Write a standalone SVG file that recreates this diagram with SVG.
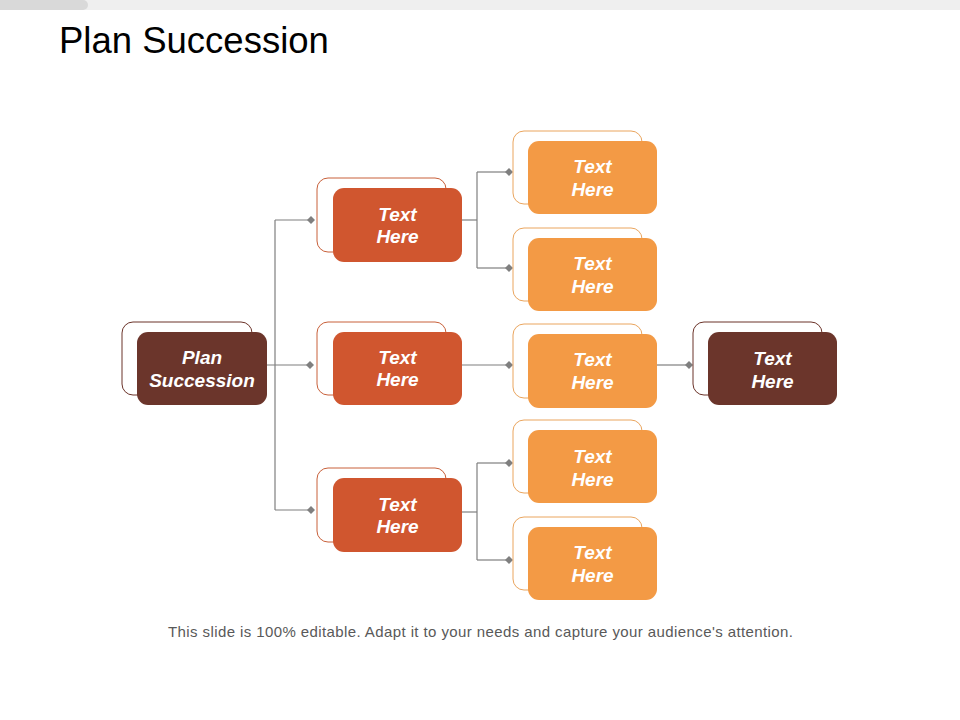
<svg xmlns="http://www.w3.org/2000/svg" width="960" height="720" viewBox="0 0 960 720">
  <defs>
    <style>
      .title { font-family: "Liberation Sans", Arial, sans-serif; font-size: 36.5px; fill: #000; }
      .foot { font-family: "Liberation Sans", Arial, sans-serif; font-size: 15px; fill: #595959; }
      .lbl { font-family: "Liberation Sans", Arial, sans-serif; font-size: 19px; font-weight: bold; font-style: italic; fill: #fff; text-anchor: middle; }
      .conn { fill: none; stroke: #7f7f7f; stroke-width: 1.2; }
      .o-dark { fill: #fff; stroke: #6b3329; stroke-width: 1; }
      .o-red { fill: #fff; stroke: #c8603a; stroke-width: 1; }
      .o-org { fill: #fff; stroke: #eaa55e; stroke-width: 1; }
      .dark { fill: #6b352b; }
      .red { fill: #d0562f; }
      .org { fill: #f39a45; }
    </style>
    <marker id="dia" viewBox="0 0 8 8" refX="4" refY="4" markerWidth="8" markerHeight="8" markerUnits="userSpaceOnUse" orient="auto">
      <path d="M0,4 L4,0 L8,4 L4,8 Z" fill="#7f7f7f"/>
    </marker>
  </defs>

  <rect x="0" y="0" width="960" height="720" fill="#fff"/>
  <rect x="0" y="0" width="960" height="10" fill="#efefef"/>
  <path d="M0,0 H83 A5,5 0 0 1 83,10 H0 Z" fill="#d9d9d9"/>

  <text class="title" x="59" y="53">Plan Succession</text>

  <g id="connectors">
    <path class="conn" d="M275,220 V510"/>
    <path class="conn" d="M267,365 H310" marker-end="url(#dia)"/>
    <path class="conn" d="M275,220 H311" marker-end="url(#dia)"/>
    <path class="conn" d="M275,510 H311" marker-end="url(#dia)"/>
    <path class="conn" d="M462,220 H477"/>
    <path class="conn" d="M477,172 V268"/>
    <path class="conn" d="M477,172 H509" marker-end="url(#dia)"/>
    <path class="conn" d="M477,268 H509" marker-end="url(#dia)"/>
    <path class="conn" d="M462,365 H509" marker-end="url(#dia)"/>
    <path class="conn" d="M462,512 H477"/>
    <path class="conn" d="M477,463 V560"/>
    <path class="conn" d="M477,463 H509" marker-end="url(#dia)"/>
    <path class="conn" d="M477,560 H509" marker-end="url(#dia)"/>
    <path class="conn" d="M657,365 H689" marker-end="url(#dia)"/>
  </g>

  <g id="root">
    <rect class="o-dark" x="122" y="322" width="130" height="73" rx="11"/>
    <rect class="dark" x="137" y="332" width="130" height="73" rx="11"/>
    <text class="lbl" x="202" y="364">Plan</text>
    <text class="lbl" x="202" y="387">Succession</text>
  </g>

  <g id="l2-top">
    <rect class="o-red" x="317" y="178" width="129" height="74" rx="11"/>
    <rect class="red" x="333" y="188" width="129" height="74" rx="11"/>
    <text class="lbl" x="397.5" y="221">Text</text>
    <text class="lbl" x="397.5" y="243">Here</text>
  </g>

  <g id="l2-mid">
    <rect class="o-red" x="317" y="322" width="129" height="73" rx="11"/>
    <rect class="red" x="333" y="332" width="129" height="73" rx="11"/>
    <text class="lbl" x="397.5" y="364">Text</text>
    <text class="lbl" x="397.5" y="386">Here</text>
  </g>

  <g id="l2-bot">
    <rect class="o-red" x="317" y="468" width="129" height="74" rx="11"/>
    <rect class="red" x="333" y="478" width="129" height="74" rx="11"/>
    <text class="lbl" x="397.5" y="511">Text</text>
    <text class="lbl" x="397.5" y="533">Here</text>
  </g>

  <g id="l3-1">
    <rect class="o-org" x="513" y="131" width="129" height="73" rx="11"/>
    <rect class="org" x="528" y="141" width="129" height="73" rx="11"/>
    <text class="lbl" x="592.5" y="173">Text</text>
    <text class="lbl" x="592.5" y="196">Here</text>
  </g>

  <g id="l3-2">
    <rect class="o-org" x="513" y="228" width="129" height="73" rx="11"/>
    <rect class="org" x="528" y="238" width="129" height="73" rx="11"/>
    <text class="lbl" x="592.5" y="270">Text</text>
    <text class="lbl" x="592.5" y="293">Here</text>
  </g>

  <g id="l3-3">
    <rect class="o-org" x="513" y="324" width="129" height="74" rx="11"/>
    <rect class="org" x="528" y="334" width="129" height="74" rx="11"/>
    <text class="lbl" x="592.5" y="366">Text</text>
    <text class="lbl" x="592.5" y="389">Here</text>
  </g>

  <g id="l3-4">
    <rect class="o-org" x="513" y="420" width="129" height="73" rx="11"/>
    <rect class="org" x="528" y="430" width="129" height="73" rx="11"/>
    <text class="lbl" x="592.5" y="463">Text</text>
    <text class="lbl" x="592.5" y="486">Here</text>
  </g>

  <g id="l3-5">
    <rect class="o-org" x="513" y="517" width="129" height="73" rx="11"/>
    <rect class="org" x="528" y="527" width="129" height="73" rx="11"/>
    <text class="lbl" x="592.5" y="559">Text</text>
    <text class="lbl" x="592.5" y="582">Here</text>
  </g>

  <g id="right">
    <rect class="o-dark" x="693" y="322" width="129" height="73" rx="11"/>
    <rect class="dark" x="708" y="332" width="129" height="73" rx="11"/>
    <text class="lbl" x="772.5" y="365">Text</text>
    <text class="lbl" x="772.5" y="388">Here</text>
  </g>

  <text class="foot" x="168" y="637" textLength="625" lengthAdjust="spacing">This slide is 100% editable. Adapt it to your needs and capture your audience's attention.</text>
</svg>
